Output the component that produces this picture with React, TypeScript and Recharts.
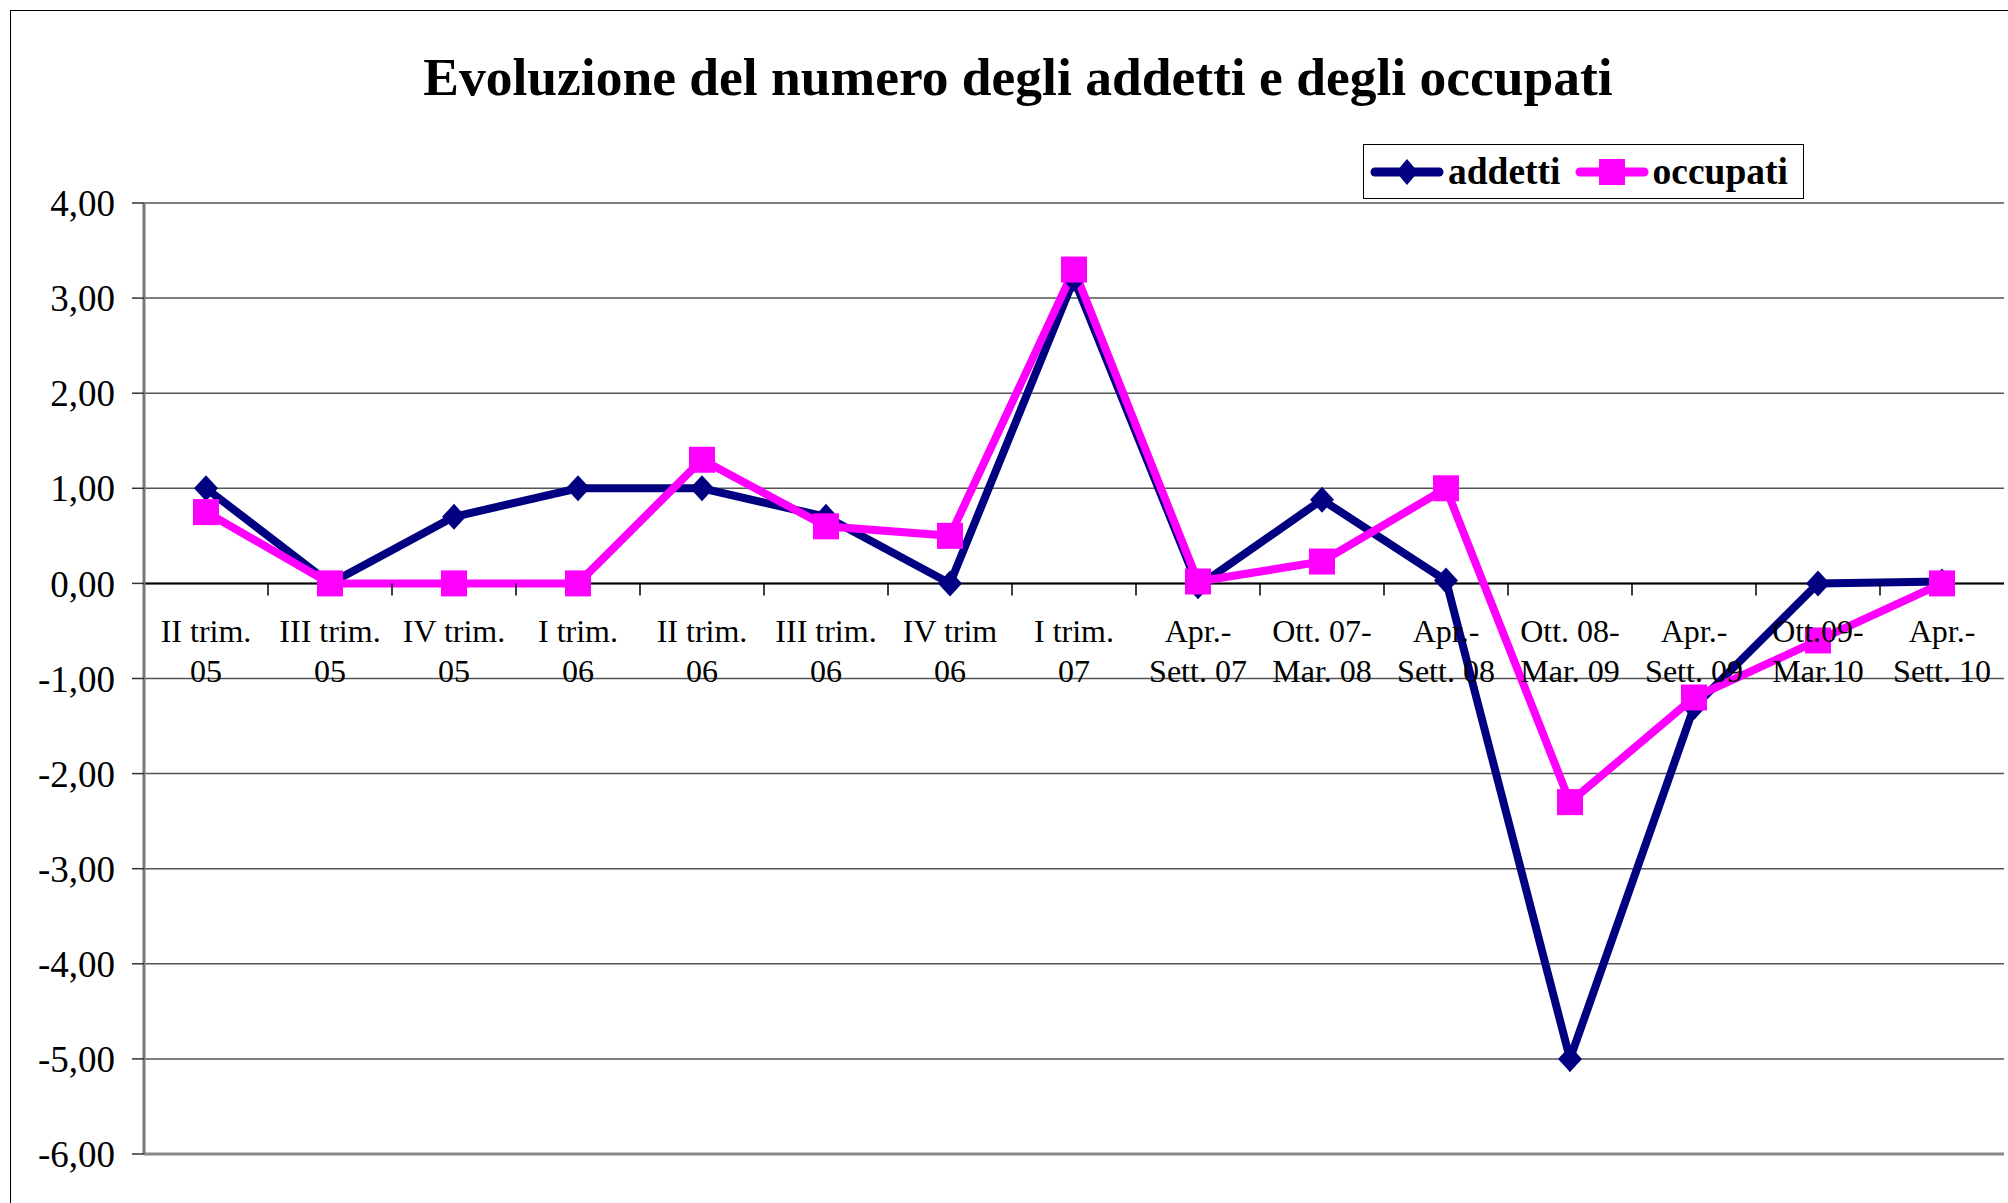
import React from 'react'
import {
  LineChart, Line, XAxis, YAxis, CartesianGrid, ReferenceLine, Legend,
} from 'recharts'

// periods (two-line labels, split on \n)
const categories = [
  'II trim.\n05', 'III trim.\n05', 'IV trim.\n05', 'I trim.\n06', 'II trim.\n06',
  'III trim.\n06', 'IV trim\n06', 'I trim.\n07', 'Apr.-\nSett. 07', 'Ott. 07-\nMar. 08',
  'Apr.-\nSett. 08', 'Ott. 08-\nMar. 09', 'Apr.-\nSett. 09', 'Ott.09-\nMar.10', 'Apr.-\nSett. 10',
]
const addetti = [1.0, 0.0, 0.7, 1.0, 1.0, 0.7, 0.0, 3.2, -0.03, 0.88, 0.03, -5.0, -1.3, 0.0, 0.02]
const occupati = [0.75, 0.0, 0.0, 0.0, 1.3, 0.6, 0.5, 3.3, 0.02, 0.23, 1.0, -2.3, -1.2, -0.6, 0.0]
const yTicks = [-6, -5, -4, -3, -2, -1, 0, 1, 2, 3, 4]

const data = categories.map((c, i) => ({ period: c, addetti: addetti[i], occupati: occupati[i] }))

const NAVY = '#000080'
const MAGENTA = '#FF00FF'
const SERIF = '"Liberation Serif", "Times New Roman", Times, serif'

const CHART_W = 2008
const CHART_H = 1203
const MARGIN = { top: 203, right: 4, bottom: 19, left: 44 }
const Y_AXIS_W = 100
const X_AXIS_H = 30
const PLOT_W = CHART_W - MARGIN.left - MARGIN.right - Y_AXIS_W
const PLOT_H = CHART_H - MARGIN.top - MARGIN.bottom - X_AXIS_H
const Y_MIN = yTicks[0]
const Y_MAX = yTicks[yTicks.length - 1]
const BAND = PLOT_W / categories.length
// the category axis crosses at 0, like in the spreadsheet
const Y_ZERO = MARGIN.top + PLOT_H * (Y_MAX - 0) / (Y_MAX - Y_MIN)

const fmt = (v: number) => v.toFixed(2).replace('.', ',')

const CategoryTick = (props: any) => {
  const { x, payload, index } = props
  const i = payload?.index ?? index
  const [l1, l2] = String(payload.value).split('\n')
  return (
    <g>
      {i < categories.length - 1 && (
        <line x1={x + BAND / 2} x2={x + BAND / 2} y1={Y_ZERO} y2={Y_ZERO + 12} stroke="#000" strokeWidth={1.5} />
      )}
      <text x={x} y={Y_ZERO + 59} textAnchor="middle" fontFamily={SERIF} fontSize={32} fill="#000">{l1}</text>
      <text x={x} y={Y_ZERO + 99} textAnchor="middle" fontFamily={SERIF} fontSize={32} fill="#000">{l2}</text>
    </g>
  )
}

const DiamondDot = (props: any) => {
  const { cx, cy, index } = props
  if (cx == null || cy == null) return null
  return (
    <path key={`d${index}`} d={`M${cx},${cy - 13}L${cx + 12},${cy}L${cx},${cy + 13}L${cx - 12},${cy}Z`} fill={NAVY} />
  )
}

const SquareDot = (props: any) => {
  const { cx, cy, index } = props
  if (cx == null || cy == null) return null
  return <rect key={`s${index}`} x={cx - 13} y={cy - 13} width={26} height={26} fill={MAGENTA} />
}

const LegendMark = ({ color, shape }: { color: string; shape: 'diamond' | 'square' }) => (
  <svg width={74} height={30} style={{ display: 'block' }}>
    <line x1={5} y1={15} x2={69} y2={15} stroke={color} strokeWidth={9} strokeLinecap="round" />
    {shape === 'diamond'
      ? <path d="M37,2L48,15L37,28L26,15Z" fill={color} />
      : <rect x={24} y={2} width={26} height={26} fill={color} />}
  </svg>
)

const ChartLegend = () => (
  <div
    style={{
      boxSizing: 'border-box', width: 441, height: 55, border: '1.5px solid #000', background: '#fff',
      display: 'flex', alignItems: 'center', paddingLeft: 6, fontFamily: SERIF, fontWeight: 'bold', fontSize: 37.5,
    }}
  >
    <LegendMark color={NAVY} shape="diamond" />
    <span style={{ marginLeft: 4, marginRight: 14 }}>addetti</span>
    <LegendMark color={MAGENTA} shape="square" />
    <span style={{ marginLeft: 4 }}>occupati</span>
  </div>
)

export default function App() {
  return (
    <div style={{ position: 'absolute', left: 0, top: 0, width: CHART_W, height: CHART_H, background: '#fff', overflow: 'hidden' }}>
      {/* outer chart frame */}
      <div style={{ position: 'absolute', left: 10, top: 10, width: CHART_W, height: CHART_H, borderLeft: '1.5px solid #000', borderTop: '1.5px solid #000' }} />
      <div
        style={{
          position: 'absolute', left: 0, width: 2036, top: 51, textAlign: 'center',
          fontFamily: SERIF, fontWeight: 'bold', fontSize: 53.5, lineHeight: '53px', color: '#000',
        }}
      >
        Evoluzione del numero degli addetti e degli occupati
      </div>
      <div style={{ position: 'absolute', left: 0, top: 0 }}>
        <LineChart width={CHART_W} height={CHART_H} data={data} margin={MARGIN}>
          <CartesianGrid horizontal vertical={false} stroke="#555" strokeWidth={1.5} />
          <XAxis
            dataKey="period"
            height={X_AXIS_H}
            padding={{ left: BAND / 2, right: BAND / 2 }}
            interval={0}
            axisLine={{ stroke: '#888', strokeWidth: 3 }}
            tickLine={false}
            tick={<CategoryTick />}
          />
          <YAxis
            width={Y_AXIS_W}
            domain={[Y_MIN, Y_MAX]}
            ticks={yTicks}
            interval={0}
            tickFormatter={fmt}
            tickSize={12}
            tickMargin={17}
            axisLine={{ stroke: '#777', strokeWidth: 3 }}
            tickLine={{ stroke: '#333', strokeWidth: 1.5 }}
            tick={{ fontFamily: SERIF, fontSize: 37, fill: '#000' }}
          />
          <YAxis
            yAxisId="frame"
            orientation="right"
            width={0}
            domain={[Y_MIN, Y_MAX]}
            tick={false}
            tickLine={false}
            axisLine={{ stroke: '#888', strokeWidth: 3 }}
          />
          <ReferenceLine y={0} stroke="#000" strokeWidth={2} />
          <Legend
            layout="horizontal"
            verticalAlign="middle"
            align="center"
            wrapperStyle={{ left: 1363, top: 144, width: 441, height: 55 }}
            content={<ChartLegend />}
          />
          <Line
            type="linear"
            dataKey="addetti"
            name="addetti"
            stroke={NAVY}
            strokeWidth={8}
            dot={DiamondDot}
            activeDot={false}
            isAnimationActive={false}
          />
          <Line
            type="linear"
            dataKey="occupati"
            name="occupati"
            stroke={MAGENTA}
            strokeWidth={8}
            dot={SquareDot}
            activeDot={false}
            isAnimationActive={false}
          />
        </LineChart>
      </div>
    </div>
  )
}
